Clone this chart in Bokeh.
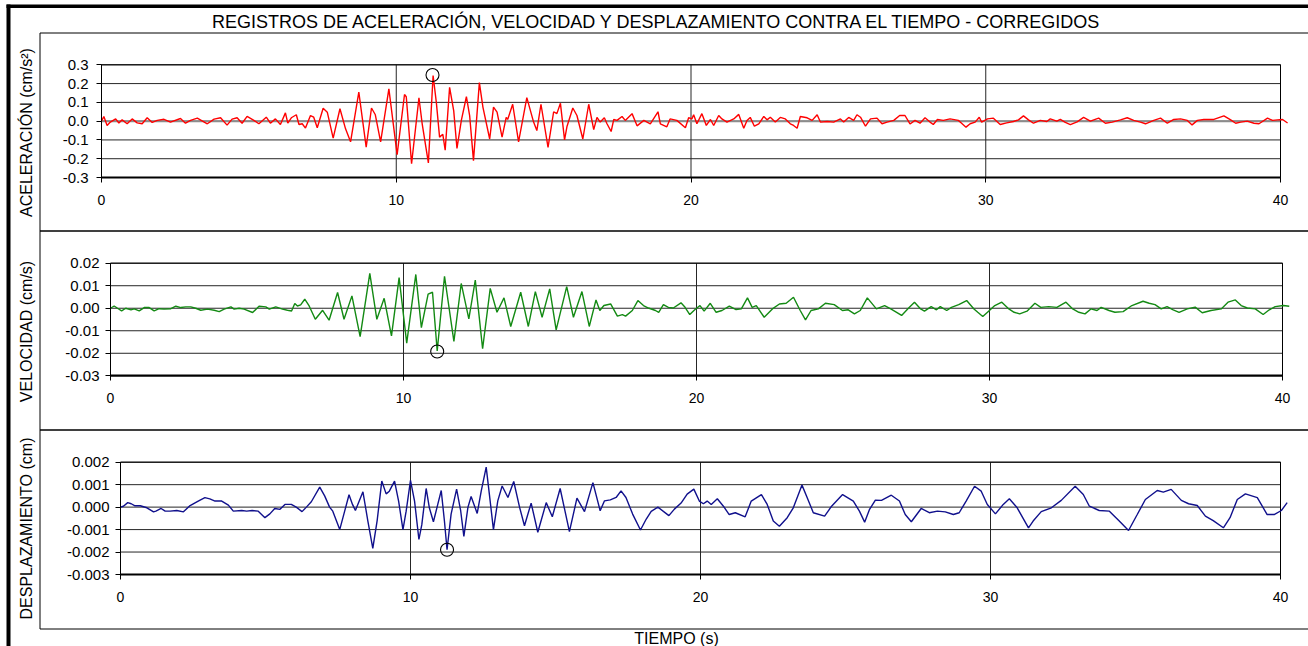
import math
from bokeh.plotting import figure
from bokeh.models import Range1d, FixedTicker, BoxAnnotation, Label, LinearAxis, NumeralTickFormatter
from bokeh.embed import file_html
from bokeh.resources import INLINE

FONT = "Liberation Sans"

TITLE = "REGISTROS DE ACELERACIÓN, VELOCIDAD Y DESPLAZAMIENTO CONTRA EL TIEMPO - CORREGIDOS"
X_LABEL = "TIEMPO (s)"
Y_LABELS = ["ACELERACIÓN (cm/s²)", "VELOCIDAD (cm/s)", "DESPLAZAMIENTO (cm)"]

X_LIMITS = (0, 40)
X_TICKS = [0, 10, 20, 30, 40]
X_TICK_LABELS = ["0", "10", "20", "30", "40"]

ACC_LIMITS = (-0.3, 0.3)
ACC_TICKS = [-0.3, -0.2, -0.1, 0.0, 0.1, 0.2, 0.3]
ACC_TICK_LABELS = ["-0.3", "-0.2", "-0.1", "0.0", "0.1", "0.2", "0.3"]
VEL_LIMITS = (-0.03, 0.02)
VEL_TICKS = [-0.03, -0.02, -0.01, 0.0, 0.01, 0.02]
VEL_TICK_LABELS = ["-0.03", "-0.02", "-0.01", "0.00", "0.01", "0.02"]
DIS_LIMITS = (-0.003, 0.002)
DIS_TICKS = [-0.003, -0.002, -0.001, 0.0, 0.001, 0.002]
DIS_TICK_LABELS = ["-0.003", "-0.002", "-0.001", "0.000", "0.001", "0.002"]

# acceleration (cm/s2) vs time (s)
acc_t = [0.00, 0.08, 0.19, 0.30, 0.48, 0.59, 0.70, 0.87, 1.04, 1.21, 1.38, 1.55, 1.72, 1.89, 2.12, 2.34,
         2.68, 2.85, 3.02, 3.25, 3.59, 3.82, 4.04, 4.26, 4.43, 4.60, 4.77, 4.94, 5.17, 5.34, 5.59, 5.73,
         5.90, 6.07, 6.24, 6.32, 6.44, 6.61, 6.70, 6.81, 6.92, 7.09, 7.20, 7.32, 7.52, 7.66, 7.86, 8.09,
         8.28, 8.45, 8.73, 8.98, 9.16, 9.29, 9.47, 9.75, 10.03, 10.28, 10.34, 10.52, 10.77, 10.88, 11.09, 11.25,
         11.36, 11.47, 11.58, 11.66, 11.81, 11.95, 12.06, 12.21, 12.38, 12.49, 12.62, 12.82, 12.94, 13.17, 13.30, 13.42,
         13.59, 13.73, 13.78, 13.95, 14.15, 14.43, 14.66, 14.77, 14.91, 15.15, 15.34, 15.45, 15.57, 15.71, 15.79, 15.99,
         16.13, 16.33, 16.53, 16.70, 16.81, 16.92, 17.06, 17.15, 17.29, 17.38, 17.49, 17.66, 17.77, 18.00, 18.17, 18.40,
         18.62, 18.88, 18.96, 19.18, 19.29, 19.52, 19.81, 19.92, 20.03, 20.09, 20.20, 20.37, 20.52, 20.66, 20.77, 20.94,
         21.05, 21.22, 21.45, 21.62, 21.79, 21.90, 22.01, 22.15, 22.30, 22.47, 22.58, 22.69, 22.86, 23.03, 23.20, 23.37,
         23.48, 23.60, 23.71, 23.94, 24.11, 24.28, 24.39, 24.62, 24.84, 25.07, 25.18, 25.35, 25.52, 25.63, 25.75, 25.92,
         26.09, 26.31, 26.48, 26.65, 26.88, 27.08, 27.26, 27.43, 27.60, 27.77, 27.94, 28.11, 28.22, 28.36, 28.56, 28.79,
         29.07, 29.18, 29.33, 29.47, 29.64, 29.78, 29.86, 30.06, 30.26, 30.49, 30.71, 30.94, 31.11, 31.28, 31.45, 31.62,
         31.85, 32.07, 32.19, 32.41, 32.53, 32.70, 32.87, 33.10, 33.32, 33.55, 33.83, 34.06, 34.29, 34.57, 34.80, 35.02,
         35.25, 35.42, 35.70, 35.93, 36.16, 36.38, 36.61, 36.84, 37.00, 37.18, 37.40, 37.74, 38.08, 38.31, 38.48, 38.65,
         38.87, 39.10, 39.27, 39.56, 39.73, 39.90, 40.07, 40.24]
acc_v = [0.000, 0.025, -0.023, -0.005, 0.012, -0.010, 0.007, -0.014, 0.012, -0.009, -0.014, 0.018, -0.007, 0.004, 0.010, -0.005,
         0.014, -0.011, 0.004, 0.016, -0.014, 0.011, 0.018, -0.021, 0.011, 0.018, -0.011, 0.025, 0.004, -0.014, 0.021, -0.011,
         0.012, -0.018, 0.044, -0.011, 0.018, 0.034, -0.018, -0.014, -0.037, 0.030, 0.021, -0.035, 0.069, 0.048, -0.090, 0.066,
         -0.041, -0.110, 0.155, -0.138, 0.070, 0.034, -0.110, 0.172, -0.178, 0.142, 0.130, -0.227, 0.124, -0.014, -0.222, 0.243,
         0.100, -0.085, -0.070, -0.155, 0.180, 0.055, -0.145, 0.005, 0.130, 0.030, -0.210, 0.205, 0.075, -0.095, 0.075, 0.048,
         -0.085, 0.020, 0.009, 0.090, -0.110, 0.125, -0.005, -0.050, 0.090, -0.140, 0.050, 0.040, 0.095, -0.100, -0.030, 0.070,
         0.030, -0.095, 0.090, -0.045, 0.020, -0.005, 0.018, -0.014, -0.055, 0.009, 0.004, 0.025, 0.004, 0.040, -0.025, 0.004,
         -0.014, 0.050, -0.014, -0.030, 0.012, 0.004, -0.035, 0.018, 0.012, 0.034, -0.014, 0.040, -0.023, 0.009, -0.023, 0.030,
         0.012, -0.005, 0.012, 0.036, -0.038, 0.004, 0.020, -0.027, -0.014, 0.025, 0.007, 0.021, -0.005, 0.020, 0.012, -0.014,
         -0.023, -0.038, 0.025, 0.018, 0.004, 0.034, -0.005, -0.002, -0.005, 0.012, -0.005, 0.020, 0.004, 0.034, 0.021, -0.027,
         0.012, 0.016, -0.014, -0.005, 0.004, 0.030, 0.030, -0.015, 0.004, -0.011, 0.018, -0.005, -0.018, 0.009, 0.004, 0.012,
         0.004, -0.011, -0.032, -0.014, -0.005, 0.021, -0.005, 0.012, 0.016, -0.018, -0.009, -0.002, 0.007, 0.028, 0.007, -0.011,
         0.004, -0.002, 0.012, 0.000, 0.009, -0.007, -0.018, -0.004, 0.020, 0.000, 0.016, -0.011, -0.005, 0.007, 0.018, 0.004,
         -0.005, -0.014, 0.004, 0.016, -0.011, 0.009, 0.012, 0.004, -0.020, 0.004, 0.009, 0.009, 0.028, 0.007, -0.011, -0.005,
         0.000, -0.011, -0.014, 0.016, 0.004, 0.007, 0.009, -0.010]

# velocity (cm/s) vs time (s)
vel_t = [0.00, 0.125, 0.24, 0.38, 0.52, 0.70, 0.81, 0.98, 1.15, 1.32, 1.49, 1.66, 1.83, 2.06, 2.23, 2.40,
         2.57, 2.74, 2.91, 3.08, 3.31, 3.54, 3.71, 3.88, 4.11, 4.22, 4.39, 4.56, 4.85, 5.07, 5.30, 5.42,
         5.64, 5.87, 6.04, 6.18, 6.29, 6.38, 6.49, 6.63, 6.78, 6.99, 7.24, 7.46, 7.75, 7.97, 8.24, 8.52,
         8.85, 9.09, 9.34, 9.59, 9.85, 10.11, 10.42, 10.61, 10.84, 10.99, 11.15, 11.40, 11.72, 11.97, 12.23, 12.45,
         12.70, 12.96, 13.19, 13.43, 13.66, 14.00, 14.26, 14.50, 14.73, 14.99, 15.21, 15.57, 15.80, 16.09, 16.34, 16.57,
         16.70, 16.84, 17.07, 17.30, 17.47, 17.58, 17.81, 18.00, 18.19, 18.36, 18.60, 18.71, 18.87, 19.04, 19.21, 19.47,
         19.61, 19.77, 19.94, 20.12, 20.26, 20.47, 20.67, 20.87, 21.12, 21.35, 21.53, 21.74, 21.90, 22.04, 22.31, 22.59,
         22.83, 23.06, 23.31, 23.54, 23.72, 23.91, 24.16, 24.40, 24.70, 24.98, 25.18, 25.39, 25.59, 25.83, 26.14, 26.42,
         26.63, 26.83, 27.00, 27.24, 27.44, 27.65, 27.78, 28.01, 28.19, 28.32, 28.54, 28.70, 28.95, 29.22, 29.47, 29.60,
         29.77, 29.97, 30.18, 30.42, 30.66, 30.84, 31.03, 31.28, 31.55, 31.75, 32.02, 32.30, 32.61, 32.84, 33.05, 33.26,
         33.46, 33.67, 33.81, 34.08, 34.28, 34.56, 34.86, 35.24, 35.45, 35.65, 35.86, 36.06, 36.27, 36.47, 36.75, 37.02,
         37.26, 37.56, 37.91, 38.14, 38.39, 38.59, 38.80, 39.07, 39.34, 39.55, 39.75, 40.03, 40.23]
vel_v = [0.0000, 0.0010, 0.0000, -0.0012, 0.0000, -0.0007, -0.0003, -0.0012, 0.0003, 0.0003, -0.0012, -0.0002, -0.0004, -0.0002, 0.0009, 0.0003,
         0.0006, 0.0006, 0.0000, -0.0009, -0.0004, -0.0009, -0.0015, -0.0004, 0.0006, -0.0004, 0.0000, -0.0004, -0.0019, 0.0009, 0.0006, -0.0004,
         0.0006, -0.0004, -0.0009, -0.0012, 0.0021, 0.0010, 0.0015, 0.0040, 0.0010, -0.0049, -0.0009, -0.0053, 0.0070, -0.0049, 0.0055, -0.0126,
         0.0155, -0.0049, 0.0044, -0.0123, 0.0136, -0.0155, 0.0150, -0.0086, 0.0063, 0.0071, -0.0190, 0.0142, -0.0147, 0.0110, -0.0047, 0.0125,
         -0.0180, 0.0088, -0.0018, 0.0046, -0.0081, 0.0071, -0.0081, 0.0074, -0.0040, 0.0086, -0.0096, 0.0096, -0.0040, 0.0074, -0.0081, 0.0037,
         -0.0010, 0.0012, 0.0019, -0.0035, -0.0028, -0.0035, -0.0010, 0.0034, 0.0012, 0.0001, -0.0010, -0.0018, 0.0016, 0.0004, 0.0001, 0.0024,
         0.0004, -0.0028, -0.0007, 0.0012, -0.0013, 0.0022, -0.0018, -0.0010, 0.0009, -0.0006, -0.0003, 0.0046, 0.0004, 0.0012, -0.0040, -0.0003,
         0.0019, 0.0022, 0.0049, -0.0010, -0.0052, -0.0010, -0.0003, 0.0022, 0.0016, -0.0010, -0.0007, -0.0025, -0.0010, 0.0046, -0.0003, 0.0012,
         -0.0003, -0.0018, -0.0032, 0.0001, 0.0027, -0.0003, -0.0013, 0.0007, -0.0007, 0.0007, -0.0010, 0.0004, 0.0016, 0.0034, -0.0003, -0.0018,
         -0.0037, -0.0013, 0.0012, 0.0027, -0.0003, -0.0018, -0.0025, -0.0013, 0.0022, 0.0004, 0.0007, 0.0004, 0.0027, -0.0003, -0.0018, -0.0025,
         -0.0003, -0.0010, 0.0004, -0.0010, -0.0018, -0.0015, 0.0012, 0.0031, 0.0022, 0.0016, -0.0003, 0.0007, -0.0007, -0.0018, -0.0003, 0.0005,
         -0.0020, -0.0010, -0.0003, 0.0027, 0.0037, 0.0012, 0.0001, -0.0003, -0.0028, -0.0007, 0.0007, 0.0012, 0.0009]

# displacement (cm) vs time (s)
dis_t = [0.00, 0.10, 0.25, 0.37, 0.50, 0.68, 0.91, 1.14, 1.22, 1.40, 1.54, 1.71, 1.94, 2.17, 2.40, 2.68,
         2.91, 3.08, 3.26, 3.49, 3.72, 3.89, 4.18, 4.35, 4.54, 4.75, 4.98, 5.15, 5.32, 5.50, 5.67, 5.89,
         6.06, 6.26, 6.41, 6.58, 6.87, 7.04, 7.21, 7.32, 7.56, 7.73, 7.88, 8.00, 8.10, 8.36, 8.53, 8.70,
         8.85, 9.01, 9.16, 9.27, 9.45, 9.59, 9.74, 9.85, 10.00, 10.14, 10.29, 10.39, 10.54, 10.65, 10.79, 10.94,
         11.06, 11.17, 11.26, 11.40, 11.59, 11.73, 11.84, 11.98, 12.09, 12.30, 12.44, 12.61, 12.72, 12.86, 13.01, 13.16,
         13.36, 13.56, 13.76, 13.93, 14.16, 14.39, 14.68, 14.89, 15.16, 15.48, 15.74, 16.00, 16.29, 16.54, 16.69, 16.89,
         17.09, 17.26, 17.43, 17.66, 17.93, 18.13, 18.30, 18.53, 18.91, 19.10, 19.33, 19.54, 19.77, 19.96, 20.10, 20.23,
         20.37, 20.58, 20.79, 20.99, 21.20, 21.54, 21.75, 22.10, 22.30, 22.51, 22.72, 22.99, 23.20, 23.50, 23.68, 23.89,
         24.28, 24.52, 24.90, 25.27, 25.48, 25.66, 25.83, 26.03, 26.24, 26.58, 26.86, 27.06, 27.27, 27.61, 27.89, 28.17,
         28.44, 28.72, 28.92, 29.16, 29.45, 29.68, 29.89, 30.17, 30.44, 30.65, 30.92, 31.31, 31.47, 31.75, 32.10, 32.44,
         32.92, 33.20, 33.41, 33.75, 34.10, 34.44, 34.76, 35.06, 35.34, 35.75, 35.96, 36.23, 36.58, 36.83, 37.13, 37.41,
         37.68, 38.03, 38.26, 38.51, 38.79, 39.20, 39.54, 39.78, 40.03, 40.23]
dis_v = [0.00000, 0.00004, 0.00020, 0.00015, 0.00006, 0.00006, -0.00003, -0.00021, -0.00018, -0.00006, -0.00018, -0.00018, -0.00015, -0.00021, 0.00007, 0.00027,
         0.00042, 0.00037, 0.00027, 0.00027, 0.00009, -0.00018, -0.00015, -0.00018, -0.00015, -0.00018, -0.00047, -0.00030, -0.00006, -0.00010, 0.00012, 0.00012,
         0.00000, -0.00020, 0.00000, 0.00024, 0.00089, 0.00050, 0.00000, -0.00018, -0.00100, -0.00018, 0.00055, 0.00012, -0.00015, 0.00068, -0.00062, -0.00184,
         -0.00060, 0.00116, 0.00059, 0.00071, 0.00116, 0.00027, -0.00100, -0.00018, 0.00119, 0.00027, -0.00144, -0.00078, 0.00083, -0.00003, -0.00065, 0.00012,
         0.00074, -0.00062, -0.00190, -0.00031, 0.00080, -0.00016, -0.00130, -0.00001, 0.00047, -0.00028, 0.00072, 0.00178, 0.00057, -0.00100, 0.00028, 0.00094,
         0.00043, 0.00114, 0.00000, -0.00083, 0.00018, -0.00112, 0.00020, -0.00043, 0.00083, -0.00109, 0.00040, -0.00020, 0.00109, -0.00016, 0.00028, 0.00032,
         0.00043, 0.00072, 0.00043, -0.00031, -0.00102, -0.00053, -0.00019, 0.00000, -0.00038, -0.00009, 0.00018, 0.00058, 0.00080, 0.00027, 0.00015, 0.00027,
         0.00012, 0.00037, 0.00004, -0.00033, -0.00025, -0.00043, 0.00027, 0.00056, 0.00012, -0.00062, -0.00085, -0.00047, -0.00003, 0.00098, 0.00042, -0.00025,
         -0.00040, 0.00004, 0.00056, 0.00027, -0.00018, -0.00067, -0.00010, 0.00031, 0.00030, 0.00053, 0.00027, -0.00033, -0.00065, -0.00006, -0.00025, -0.00018,
         -0.00021, -0.00033, -0.00025, 0.00027, 0.00093, 0.00071, 0.00012, -0.00030, 0.00012, 0.00037, -0.00003, -0.00092, -0.00062, -0.00020, -0.00003, 0.00030,
         0.00093, 0.00056, 0.00004, -0.00015, -0.00018, -0.00062, -0.00104, -0.00033, 0.00034, 0.00074, 0.00067, 0.00079, 0.00030, 0.00015, 0.00007, -0.00040,
         -0.00060, -0.00092, -0.00047, 0.00034, 0.00059, 0.00042, -0.00033, -0.00033, -0.00015, 0.00020]

# circled peak values
acc_peak_t, acc_peak_v = [11.23], [0.246]
vel_peak_t, vel_peak_v = [11.15], [-0.0192]
dis_peak_t, dis_peak_v = [11.26], [-0.0019]

# ---------------------------------------------------------------- layout (pixels)
W, H = 1308, 646
GRID = "#262626"

# pixel placement of each panel's plot area: (left, right, top, bottom)
AREAS = {
    "acc": (101, 1280, 64.3, 177.0),
    "vel": (110, 1282, 262.7, 375.3),
    "dis": (120, 1280, 461.7, 574.0),
}


def range_x(v0, v1, p0, p1):
    k = (v1 - v0) / (p1 - p0)
    return Range1d(v0 - k * p0, v0 + k * (W - p0))


def range_y(vbot, vtop, ptop, pbot):
    k = (vtop - vbot) / (pbot - ptop)
    end = vtop + k * ptop
    return Range1d(end - k * H, end)


# the default ranges map one data unit to one pixel (y measured from the top)
p = figure(width=W, height=H, x_range=Range1d(0, W), y_range=Range1d(H, 0),
           output_backend="svg", toolbar_location=None, tools="",
           x_axis_location=None, y_axis_location=None, min_border=0)
p.outline_line_color = None
p.background_fill_color = "white"
p.border_fill_color = "white"
p.grid.visible = False


def add_panel(name, ylim, yticks, ylabels, fmt, t, v, color, pk_t, pk_v, ystand):
    l, r, top, bot = AREAS[name]
    xn, yn = "x_" + name, "y_" + name
    p.extra_x_ranges[xn] = range_x(X_LIMITS[0], X_LIMITS[1], l, r)
    p.extra_y_ranges[yn] = range_y(ylim[0], ylim[1], top, bot)
    kw = dict(x_range_name=xn, y_range_name=yn)

    # grid lines (from the tick lists)
    p.segment(x0=[X_LIMITS[0]] * len(yticks), x1=[X_LIMITS[1]] * len(yticks), y0=yticks, y1=yticks,
              line_color=GRID, line_width=1, **kw)
    p.segment(x0=X_TICKS, x1=X_TICKS, y0=[ylim[0]] * len(X_TICKS), y1=[ylim[1]] * len(X_TICKS),
              line_color=GRID, line_width=1, **kw)
    if name == "acc":
        p.segment(x0=[X_LIMITS[0]], x1=[X_LIMITS[1]], y0=[0.0], y1=[0.0],
                  line_color="#8c8c8c", line_width=2, **kw)
    # plot area border
    p.quad(left=[X_LIMITS[0]], right=[X_LIMITS[1]], bottom=[ylim[0]], top=[ylim[1]],
           fill_color=None, line_color="black", line_width=1, **kw)

    p.line(t, v, line_color=color, line_width=1.4, **kw)
    p.scatter(pk_t, pk_v, marker="circle", size=13, fill_color=None,
              line_color="black", line_width=1.1, **kw)

    xa = LinearAxis(fixed_location=ylim[0], bounds=X_LIMITS, **kw)
    xa.ticker = FixedTicker(ticks=X_TICKS)
    xa.major_label_overrides = dict(zip(X_TICKS, X_TICK_LABELS))
    xa.axis_line_color = "black"
    xa.axis_line_width = 2
    xa.major_tick_out = 5
    xa.major_tick_in = 0
    xa.major_tick_line_color = "black"
    xa.minor_tick_line_color = None
    xa.major_label_standoff = 12
    xa.major_label_text_font = FONT
    xa.major_label_text_font_size = "14px"
    xa.major_label_text_color = "black"
    p.add_layout(xa, "below")

    ya = LinearAxis(fixed_location=X_LIMITS[0], bounds=ylim, **kw)
    ya.ticker = FixedTicker(ticks=yticks)
    ya.formatter = NumeralTickFormatter(format=fmt)
    ya.major_label_overrides = dict(zip(yticks, ylabels))
    ya.axis_line_color = "black"
    ya.major_tick_out = 5
    ya.major_tick_in = 0
    ya.major_tick_line_color = "black"
    ya.minor_tick_line_color = None
    ya.major_label_standoff = ystand
    ya.major_label_text_font = FONT
    ya.major_label_text_font_size = "15px"
    ya.major_label_text_color = "black"
    p.add_layout(ya, "left")


add_panel("acc", ACC_LIMITS, ACC_TICKS, ACC_TICK_LABELS, "0.0",
          acc_t, acc_v, "#ff0000", acc_peak_t, acc_peak_v, 8)
add_panel("vel", VEL_LIMITS, VEL_TICKS, VEL_TICK_LABELS, "0.00",
          vel_t, vel_v, "#138a13", vel_peak_t, vel_peak_v, 6)
add_panel("dis", DIS_LIMITS, DIS_TICKS, DIS_TICK_LABELS, "0.000",
          dis_t, dis_v, "#10108c", dis_peak_t, dis_peak_v, 6)


def add_label(x, y, text, size, angle=0.0):
    p.add_layout(Label(x=x, y=y, text=text, angle=angle, text_align="center", text_baseline="middle",
                       text_font=FONT, text_font_size=size, text_color="black"))


def add_box(left, right, top, bottom, fill=None):
    if fill is not None:
        p.add_layout(BoxAnnotation(left=left, right=right, top=top, bottom=bottom,
                                   fill_color=fill, fill_alpha=1.0, line_color=None))
    else:
        p.add_layout(BoxAnnotation(left=left, right=right, top=top, bottom=bottom,
                                   fill_alpha=0.0, line_color="black", line_width=1, line_alpha=1.0))


# frames around the three panels and the thick outer border
add_box(39.5, W + 20, 32.5, 230.5)
add_box(39.5, W + 20, 230.5, 429.5)
add_box(39.5, W + 20, 429.5, 628.5)
add_box(6, 10, 4, H + 20, fill="black")
add_box(6, W + 20, 4, 7.5, fill="black")

add_label(657, 21, TITLE, "18px")
add_label(25.5, 132, Y_LABELS[0], "16px", math.pi / 2)
add_label(25.5, 331, Y_LABELS[1], "16px", math.pi / 2)
add_label(25.5, 528, Y_LABELS[2], "16px", math.pi / 2)
add_label(676, 638, X_LABEL, "16px")

open("out.html", "w").write(file_html(p, INLINE, title="Registros corregidos"))
